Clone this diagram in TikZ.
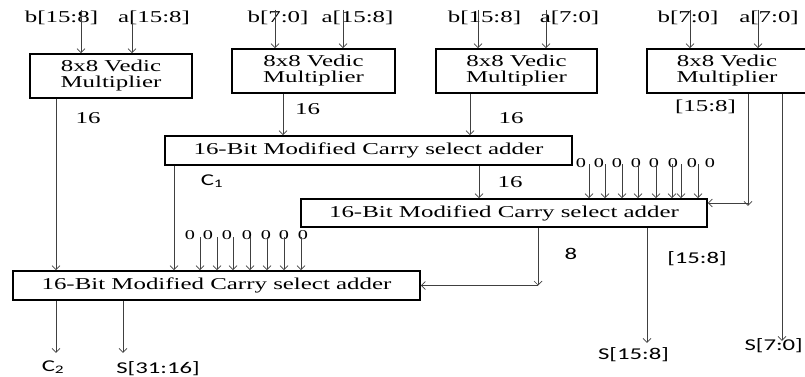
\documentclass[tikz,border=0pt]{standalone}
\usepackage{fontspec}
\setmainfont{Liberation Serif}[FakeStretch=1.5]
\newfontfamily\sansf{Carlito}[FakeStretch=1.5]
\usetikzlibrary{arrows.meta}
\newcommand{\mainsz}{\fontsize{16.6}{16}\selectfont}
\newcommand{\sanssz}{\sansf\fontsize{16.5}{16}\selectfont}
\newcommand{\zerosz}{\fontsize{13.5}{13.5}\selectfont}
\tikzset{
  box/.style={draw=black, line width=1.6pt, inner sep=0pt, font=\mainsz, align=center},
  lbl/.style={inner sep=1pt, font=\mainsz},
  slbl/.style={inner sep=1pt, font=\sanssz},
  zero/.style={inner sep=0pt, font=\zerosz},
  arr/.style={draw=black!75, line width=0.7pt, -{Straight Barb[length=4pt,width=8pt]}},
}
\begin{document}
\begin{tikzpicture}[x=1pt,y=-1pt]
\useasboundingbox (0,0) rectangle (805,377);
% multipliers
\node[box, minimum width=162pt, minimum height=44pt] (M1) at (111,76) {8x8 Vedic\\Multiplier};
\node[box, minimum width=163pt, minimum height=44pt] (M2) at (313.5,71) {8x8 Vedic\\Multiplier};
\node[box, minimum width=161pt, minimum height=44pt] (M3) at (516.5,71) {8x8 Vedic\\Multiplier};
\node[box, minimum width=160pt, minimum height=44pt] (M4) at (727,71) {8x8 Vedic\\Multiplier};
% adders
\node[box, minimum width=407pt, minimum height=29pt] (A1) at (368.5,150.5) {16-Bit Modified Carry select adder};
\node[box, minimum width=406pt, minimum height=28pt] (A2) at (504,213) {16-Bit Modified Carry select adder};
\node[box, minimum width=407pt, minimum height=29pt] (A3) at (216.5,285.5) {16-Bit Modified Carry select adder};
% input labels and arrows
\foreach \nm/\cx/\dx/\tx/\bx in {ib1/61.5/19.5/b[15:8]/M1, ia1/154/-22/a[15:8]/M1,
  ib2/278/-3/b[7:0]/M2, ia2/357.5/-14.5/a[15:8]/M2,
  ib3/484.5/-6.5/b[15:8]/M3, ia3/569.5/-23.5/a[7:0]/M3,
  ib4/688/2/b[7:0]/M4, ia4/769/-11/a[7:0]/M4} {
  \node[lbl] (\nm) at (\cx,18) {\tx};
  \draw[arr] ([xshift=\dx pt]\nm.north) -- ([xshift=\dx pt]\nm.north |- \bx.north);
}
% multiplier outputs
\draw[arr] ([xshift=-55pt]M1.south) -- ([xshift=-55pt]M1.south |- A3.north);
\node[lbl] (l16a) at (88,118) {16};
\draw[arr] ([xshift=-30.5pt]M2.south) -- ([xshift=-30.5pt]M2.south |- A1.north);
\node[lbl] (l16b) at (307.5,109) {16};
\draw[arr] ([xshift=-46.5pt]M3.south) -- ([xshift=-46.5pt]M3.south |- A1.north);
\node[lbl] (l16c) at (511,118) {16};
\node[lbl] (l158a) at (705.5,107) {[15:8]};
\coordinate (m4a) at ([xshift=21pt]M4.south);
\coordinate (m4b) at ([xshift=55pt]M4.south);
\coordinate (a2e) at ([yshift=10pt]A2.east);
\draw[arr] (m4a) -- ++(0,112);
\draw[arr] (m4a |- a2e) -- (a2e);
\draw[arr] (m4b) -- ++(0,247);
\node[slbl, anchor=east] (s70) at (804,346) {S[7:0]};
% adder 1 outputs
\draw[arr] ([xshift=-194.5pt]A1.south) -- ([xshift=-194.5pt]A1.south |- A3.north);
\node[slbl] (c1) at (212,181) {C\textsubscript{1}};
\draw[arr] ([xshift=110.5pt]A1.south) -- ([xshift=110.5pt]A1.south |- A2.north);
\node[lbl] (l16d) at (510,182) {16};
% zeros into adder 2
\foreach \zx/\ax [count=\i] in {581/589, 599/605, 617/622, 636/638, 654/656, 673/672, 692/681, 710/698} {
  \node[zero] (zA\i) at (\zx,163) {0};
  \coordinate (wA\i) at (\ax,164);
  \draw[arr] (wA\i) -- (wA\i |- A2.north);
}
% zeros into adder 3
\foreach \zx/\ax [count=\i] in {190/200, 208/217, 227/233, 247/250, 266/267, 284/284, 303/301} {
  \node[zero] (zB\i) at (\zx,235) {0};
  \coordinate (wB\i) at (\ax,237);
  \draw[arr] (wB\i) -- (wB\i |- A3.north);
}
% adder 2 outputs
\coordinate (a2s) at ([xshift=34pt]A2.south);
\draw[arr] (a2s) -- (a2s |- A3.east);
\draw[arr] (a2s |- A3.east) -- (A3.east);
\node[slbl] (l8) at (571,254) {8};
\coordinate (a2t) at ([xshift=143pt]A2.south);
\draw[arr] (a2t) -- ++(0,115);
\node[slbl] (l158b) at (697,259) {[15:8]};
\node[slbl] (s158) at (633.5,355) {S[15:8]};
% adder 3 outputs
\draw[arr] ([xshift=-160.5pt]A3.south) -- ++(0,52);
\node[slbl] (c2) at (53,367) {C\textsubscript{2}};
\draw[arr] ([xshift=-93.5pt]A3.south) -- ++(0,52);
\node[slbl] (s3116) at (158,369) {S[31:16]};
\end{tikzpicture}
\end{document}
